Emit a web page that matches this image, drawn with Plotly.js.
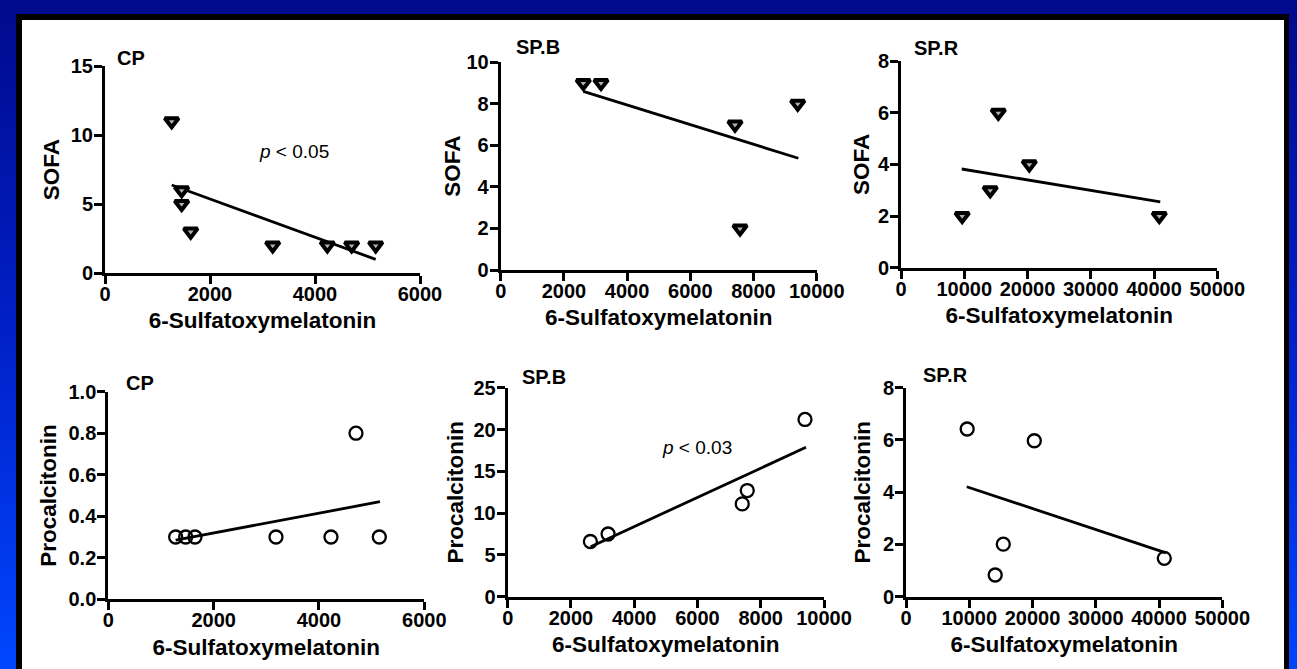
<!DOCTYPE html>
<html>
<head>
<meta charset="utf-8">
<script src="https://cdn.plot.ly/plotly-3.0.1.min.js"></script>
<style>
  html, body { margin:0; padding:0; width:1297px; height:669px; overflow:hidden; }
  body { background: linear-gradient(to bottom, #000a8c 0%, #0020c8 50%, #0046ff 100%); position:relative; }
  #frame { position:absolute; left:16px; top:14px; width:1262px; height:720px; background:#ffffff;
           border-left:6px solid #000; border-top:6px solid #000; border-right:5px solid #000; }
  #chart { position:absolute; left:0; top:0; width:1297px; height:669px; }
</style>
</head>
<body>
<div id="frame"></div>
<div id="chart"></div>
<script>
// ---- data ----
const cpSofaX   = [1270, 1460, 1460, 1632, 3194, 4235, 4698, 5156];
const cpSofaY   = [11, 6, 5, 3, 2, 2, 2, 2];
const spbX      = [2614, 3174, 7415, 7574, 9399];
const spbSofaY  = [9, 9, 7, 2, 8];
const sprX      = [9670, 14100, 15380, 20280, 40830];
const sprSofaY  = [2, 3, 6, 4, 2];
const cpPctX    = [1279, 1469, 1646, 3184, 4228, 4703, 5146];
const cpPctY    = [0.3, 0.3, 0.3, 0.3, 0.3, 0.8, 0.3];
const spbPctY   = [6.6, 7.5, 11.1, 12.7, 21.2];
const sprPctY   = [6.42, 0.83, 2.01, 5.97, 1.47];

// regression lines (end points)
const fitCpSofaX  = [1270, 5156],  fitCpSofaY  = [6.38, 0.99];
const fitSpbSofaX = [2614, 9420],  fitSpbSofaY = [8.6, 5.38];
const fitSprSofaX = [9600, 40990], fitSprSofaY = [3.82, 2.55];
const fitCpPctX   = [1279, 5158],  fitCpPctY   = [0.285, 0.47];
const fitSpbPctX  = [2624, 9430],  fitSpbPctY  = [5.98, 17.87];
const fitSprPctX  = [9595, 41100], fitSprPctY  = [4.21, 1.68];

const groupLabels = ['CP', 'SP.B', 'SP.R'];
const xTitle = '6-Sulfatoxymelatonin';
const yTitles = ['SOFA', 'Procalcitonin'];

// ---- layout geometry (pixels) ----
const W = 1297, H = 669;
const boxes = [
  {x0:105,   x1:420,    y0:66,    y1:273},
  {x0:500.7, x1:816.7,  y0:62.3,  y1:270},
  {x0:901,   x1:1217.3, y0:61,    y1:267.7},
  {x0:108.3, x1:424.3,  y0:391.7, y1:599.3},
  {x0:507.7, x1:824,    y0:387.7, y1:596.7},
  {x0:906,   x1:1222.3, y0:387.7, y1:596.7}
];
const xRanges = [[0,6000],[0,10000],[0,50000],[0,6000],[0,10000],[0,50000]];
const xDticks = [2000, 2000, 10000, 2000, 2000, 10000];
const yRanges = [[0,15],[0,10],[0,8],[0,1],[0,25],[0,8]];
const yDticks = [5, 2, 2, 0.2, 5, 2];
const yTitleStandoff = [5, 0, 2, 6, 4, 6];

const FONT = 'Liberation Sans, Arial, Helvetica, sans-serif';
const black = '#000000';

const triMarker = {symbol:'triangle-down', size:12, color:'#b0b0b0', line:{color:black, width:4}};
const circMarker = {symbol:'circle-open', size:13, color:black, line:{color:black, width:2.3}};

const sets = [
  [cpSofaX, cpSofaY, fitCpSofaX, fitCpSofaY, triMarker],
  [spbX, spbSofaY, fitSpbSofaX, fitSpbSofaY, triMarker],
  [sprX, sprSofaY, fitSprSofaX, fitSprSofaY, triMarker],
  [cpPctX, cpPctY, fitCpPctX, fitCpPctY, circMarker],
  [spbX, spbPctY, fitSpbPctX, fitSpbPctY, circMarker],
  [sprX, sprPctY, fitSprPctX, fitSprPctY, circMarker]
];

const data = [];
const layout = {
  width: W, height: H,
  margin: {l:0, r:0, t:0, b:0},
  paper_bgcolor: 'rgba(0,0,0,0)',
  plot_bgcolor: 'rgba(0,0,0,0)',
  showlegend: false,
  font: {family: FONT, color: black},
  annotations: []
};

sets.forEach((s, i) => {
  const n = i + 1;
  const xa = n === 1 ? 'x' : 'x' + n;
  const ya = n === 1 ? 'y' : 'y' + n;
  data.push({x: s[2], y: s[3], xaxis: xa, yaxis: ya, type: 'scatter', mode: 'lines',
             line: {color: black, width: 2.8}, hoverinfo: 'skip'});
  data.push({x: s[0], y: s[1], xaxis: xa, yaxis: ya, type: 'scatter', mode: 'markers',
             marker: s[4], cliponaxis: false});
  const b = boxes[i];
  const axCommon = {
    showgrid: false, zeroline: false, showline: true, linecolor: black, linewidth: 3,
    ticks: 'outside', ticklen: 8, tickwidth: 3, tickcolor: black,
    tickfont: {family: FONT, size: 20, color: black, weight: 'bold'},
    fixedrange: true
  };
  layout['xaxis' + (n === 1 ? '' : n)] = Object.assign({}, axCommon, {
    domain: [b.x0 / W, b.x1 / W], anchor: ya, range: xRanges[i],
    tick0: 0, dtick: xDticks[i], tickformat: 'd', ticklabelstandoff: -7,
    title: {text: xTitle, font: {family: FONT, size: 22.5, color: black, weight: 'bold'}, standoff: 9}
  });
  layout['yaxis' + (n === 1 ? '' : n)] = Object.assign({}, axCommon, {
    domain: [1 - b.y1 / H, 1 - b.y0 / H], anchor: xa, range: yRanges[i],
    tick0: 0, dtick: yDticks[i], tickformat: i === 3 ? '.1f' : 'd', ticklabelstandoff: -3,
    title: {text: yTitles[i < 3 ? 0 : 1], font: {family: FONT, size: 22.5, color: black, weight: 'bold'}, standoff: yTitleStandoff[i]}
  });
});

// panel labels
const labelPos = [
  {x:115, y:57.7}, {x:514.3, y:46.7}, {x:911.7, y:47.7},
  {x:124.3, y:383.3}, {x:520, y:376.7}, {x:920.7, y:375}
];
labelPos.forEach((p, i) => {
  layout.annotations.push({
    xref: 'paper', yref: 'paper', x: p.x / W, y: 1 - p.y / H,
    xanchor: 'left', yanchor: 'middle', showarrow: false,
    text: groupLabels[i % 3],
    font: {family: FONT, size: 20, color: black, weight: 'bold'}
  });
});

// p-value notes
layout.annotations.push({xref: 'x', yref: 'y', x: 2900, y: 8.84, xanchor: 'left', yanchor: 'middle',
  showarrow: false, text: '<i>p</i> < 0.05', font: {family: FONT, size: 19, color: black}});
layout.annotations.push({xref: 'x5', yref: 'y5', x: 4830, y: 17.9, xanchor: 'left', yanchor: 'middle',
  showarrow: false, text: '<i>p</i> < 0.03', font: {family: FONT, size: 19, color: black}});

Plotly.newPlot('chart', data, layout, {staticPlot: true, displayModeBar: false});
</script>
</body>
</html>
